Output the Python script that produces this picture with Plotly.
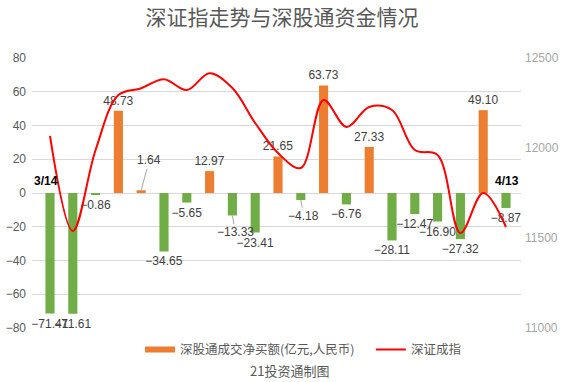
import plotly.graph_objects as go

dates = ["3/14", "3/15", "3/16", "3/17", "3/18", "3/21", "3/22", "3/23", "3/24", "3/25",
         "3/28", "3/29", "3/30", "3/31", "4/1", "4/6", "4/7", "4/8", "4/11", "4/12", "4/13"]
net_buy = [-71.41, -71.61, -0.86, 48.73, 1.64, -34.65, -5.65, 12.97, -13.33, -23.41,
           21.65, -4.18, 63.73, -6.76, 27.33, -28.11, -12.47, -16.90, -27.32, 49.10, -8.87]
szci = [12067, 11539, 11989, 12294, 12332, 12382, 12322, 12415, 12333, 12139,
        11972, 11889, 12267, 12117, 12228, 12211, 11989, 11961, 11528, 11750, 11561]

left_ticks = [-80, -60, -40, -20, 0, 20, 40, 60, 80]
right_ticks = [11000, 11500, 12000, 12500]

# labels that the reference moved off the bar with a leader line: index -> (dx, dy) px
leader_labels = {4: (8, -30), 8: (3, 17), 11: (3, 16)}

ORANGE = "#ED7D31"
GREEN = "#70AD47"
RED = "#FF0000"
GRAY = "#595959"

def fmt(v):
    return f"{v:.2f}".replace("-", "\u2212")

pos_vals = [v if v >= 0 else None for v in net_buy]
neg_vals = [v if v < 0 else None for v in net_buy]
pos_text = [fmt(v) if (v >= 0 and i not in leader_labels) else "" for i, v in enumerate(net_buy)]
neg_text = [fmt(v) if (v < 0 and i not in leader_labels) else "" for i, v in enumerate(net_buy)]

label_font = dict(family="Liberation Sans, Arial", size=12, color="#404040")

fig = go.Figure()
fig.add_trace(go.Bar(
    x=dates, y=pos_vals, marker=dict(color=ORANGE, line=dict(width=0)),
    text=pos_text, textposition="outside", cliponaxis=False, constraintext="none",
    textfont=label_font, name="净买入", showlegend=False, yaxis="y",
))
fig.add_trace(go.Bar(
    x=dates, y=neg_vals, marker=dict(color=GREEN, line=dict(width=0)),
    text=neg_text, textposition="outside", cliponaxis=False, constraintext="none",
    textfont=label_font, name="净卖出", showlegend=False, yaxis="y",
))
# legend-only entry drawn as a wide orange block, like the reference key
fig.add_trace(go.Scatter(
    x=[None], y=[None], mode="lines", line=dict(color=ORANGE, width=6),
    name="深股通成交净买额(亿元,人民币)", yaxis="y", legend="legend",
))
fig.add_trace(go.Scatter(
    x=dates, y=szci, mode="lines", line=dict(color=RED, width=2, shape="spline", smoothing=1.0),
    name="深证成指", yaxis="y2", legend="legend2",
))

for i, (dx, dy) in leader_labels.items():
    fig.add_annotation(x=dates[i], y=net_buy[i], xref="x", yref="y", text=fmt(net_buy[i]),
                       showarrow=True, arrowhead=0, arrowwidth=1, arrowcolor="#A6A6A6",
                       ax=dx, ay=dy, standoff=0, font=label_font)

fig.add_annotation(x=dates[0], y=0, xref="x", yref="y", text="<b>3/14</b>", showarrow=False,
                   yshift=12, xshift=-4, font=dict(family="Liberation Sans, Arial", size=12, color="#000000"))
fig.add_annotation(x=dates[-1], y=0, xref="x", yref="y", text="<b>4/13</b>", showarrow=False,
                   yshift=12, xshift=1, font=dict(family="Liberation Sans, Arial", size=12, color="#000000"))
fig.add_annotation(x=0.526, y=-0.156, xref="paper", yref="paper", xanchor="center", yanchor="middle",
                   text="21投资通制图", showarrow=False,
                   font=dict(family="Noto Sans CJK SC", size=13, color=GRAY))

legend_font = dict(family="Noto Sans CJK SC", size=12.5, color=GRAY)

fig.update_layout(
    width=564, height=382,
    margin=dict(l=32, r=43, t=58, b=54, autoexpand=False),
    paper_bgcolor="white", plot_bgcolor="white",
    title=dict(text="深证指走势与深股通资金情况", x=0.5, xanchor="center", y=0.953, yanchor="middle",
               font=dict(family="Noto Sans CJK SC", size=21, color=GRAY)),
    barmode="relative",
    bargap=0.6,
    showlegend=True,
    legend=dict(orientation="h", x=0.221, xanchor="left", y=-0.081, yanchor="middle",
                font=legend_font, itemwidth=30, bgcolor="rgba(0,0,0,0)"),
    legend2=dict(orientation="h", x=0.693, xanchor="left", y=-0.081, yanchor="middle",
                 font=legend_font, itemwidth=30, bgcolor="rgba(0,0,0,0)"),
    xaxis=dict(type="category", showticklabels=False, showgrid=False, zeroline=False,
               showline=False, ticks="", automargin=False),
    yaxis=dict(range=[-80, 80], tickvals=left_ticks, showgrid=True, gridcolor="#D9D9D9",
               zeroline=True, zerolinecolor="#D9D9D9", zerolinewidth=1, showline=False,
               automargin=False, ticklabelstandoff=5,
               tickfont=dict(family="Liberation Sans, Arial", size=12, color=GRAY)),
    yaxis2=dict(range=[11000, 12500], tickvals=right_ticks, tickformat="d", overlaying="y", side="right",
                showgrid=False, zeroline=False, showline=False, automargin=False, ticklabelstandoff=3,
                tickfont=dict(family="Liberation Sans, Arial", size=12, color="#A6A6A6")),
)

fig.write_html("out.html", config={"displayModeBar": False},
               post_script="document.body.style.margin='0';document.body.style.padding='0';")
